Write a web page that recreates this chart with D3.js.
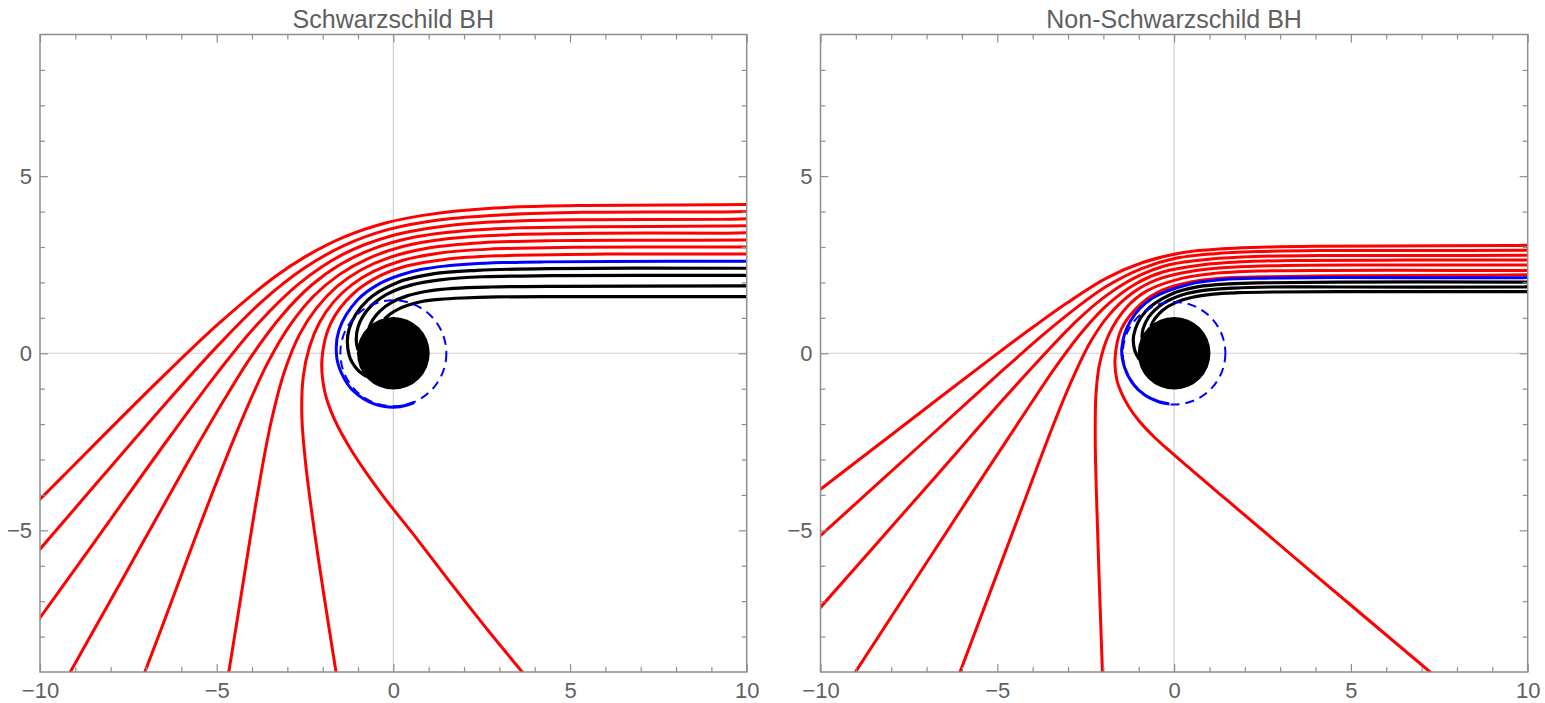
<!DOCTYPE html>
<html><head><meta charset="utf-8">
<script src="https://cdn.jsdelivr.net/npm/d3@7"></script>
<style>body{margin:0;background:#fff}</style>
</head><body>
<svg id="chart" width="1545" height="703"></svg>
<script>
// ---------- data ----------
const titles = ["Schwarzschild BH", "Non-Schwarzschild BH"];
const xMajorTicks = [-10, -5, 0, 5, 10];
const xMinorTicks = [-9, -8, -7, -6, -4, -3, -2, -1, 1, 2, 3, 4, 6, 7, 8, 9];
const yMajorTicks = [-5, 0, 5];
const yMinorTicks = [-8, -7, -6, -4, -3, -2, -1, 1, 2, 3, 4, 6, 7, 8];
const xDomain = [-10, 10];
const yDomain = [-9, 9];

// Schwarzschild panel
const leftHorizon = 1.0;
const leftPhotonSphere = 1.5;
const leftRed = [
  [[10,4.2],[9.08,4.19],[5.21,4.17],[2.87,4.10],[0.88,3.90],[-0.17,3.69],[-1.37,3.29],[-2.50,2.72],[-3.39,2.13],[-4.93,0.85],[-6.63,-0.76],[-9.37,-3.49],[-10.5,-4.62]],
  [[10,4.0],[9.17,3.99],[5.36,3.98],[3.11,3.91],[1.33,3.77],[-0.16,3.49],[-1.40,3.04],[-2.54,2.39],[-3.73,1.45],[-5.00,0.18],[-6.50,-1.48],[-9.00,-4.37],[-10.5,-6.11]],
  [[10,3.8],[9.26,3.78],[5.50,3.77],[3.33,3.73],[1.70,3.62],[-0.07,3.31],[-1.43,2.79],[-2.65,1.98],[-3.93,0.73],[-4.97,-0.54],[-6.27,-2.28],[-8.46,-5.33],[-10.5,-8.16]],
  [[10,3.6],[9.34,3.59],[5.63,3.57],[3.53,3.54],[2.01,3.46],[0.61,3.28],[-0.54,2.96],[-1.48,2.52],[-2.32,1.92],[-3.16,1.06],[-4.00,-0.06],[-4.81,-1.35],[-5.87,-3.17],[-7.68,-6.40],[-9.48,-9.6]],
  [[10,3.4],[9.41,3.39],[5.75,3.39],[3.09,3.34],[1.53,3.23],[0.29,3.02],[-0.70,2.68],[-1.53,2.22],[-2.26,1.61],[-2.92,0.80],[-3.56,-0.28],[-4.21,-1.70],[-5.21,-4.17],[-6.50,-7.60],[-7.30,-9.7]],
  [[10,3.2],[7.70,3.19],[4.56,3.18],[2.51,3.12],[0.99,2.97],[-0.12,2.70],[-0.92,2.35],[-1.60,1.88],[-2.17,1.28],[-2.65,0.54],[-3.08,-0.51],[-3.47,-1.99],[-3.85,-4.01],[-4.35,-7.10],[-4.77,-9.7]],
  [[10,3.0],[9.54,3.0],[5.06,2.99],[2.71,2.94],[1.33,2.83],[0.25,2.62],[-0.56,2.31],[-1.18,1.93],[-1.69,1.45],[-2.09,0.87],[-2.37,0.19],[-2.55,-0.66],[-2.59,-1.75],[-2.48,-3.14],[-2.17,-5.47],[-1.48,-9.89]],
  [[10,2.8],[9.60,2.8],[6.05,2.8],[2.91,2.75],[1.46,2.65],[0.40,2.47],[-0.37,2.19],[-1.15,1.67],[-1.77,0.85],[-2.02,-0.16],[-1.94,-1.09],[-1.67,-1.86],[-1.15,-2.80],[-0.32,-3.99],[0.65,-5.22],[1.61,-6.47],[2.70,-7.85],[3.84,-9.23]]
];
const leftBlue = [[10,2.6],[6.15,2.59],[4.28,2.58],[3.08,2.56],[2.18,2.52],[1.45,2.46],[0.81,2.37],[0.20,2.21],[-0.40,1.96],[-1.01,1.51],[-1.54,0.65],[-1.60,-0.13],[-1.43,-0.64],[-1.14,-1.06],[-0.55,-1.43],[0.10,-1.52],[0.59,-1.39]];
const leftBlack = [
  [[10,2.4],[9.71,2.40],[4.39,2.39],[2.37,2.34],[1.12,2.24],[0.12,2.00],[-0.73,1.50],[-1.25,0.69],[-1.25,-0.06],[-1.01,-0.47],[-0.75,-0.66]],
  [[10,2.2],[9.76,2.2],[4.49,2.19],[2.54,2.16],[1.38,2.08],[0.52,1.93],[-0.19,1.66],[-0.72,1.24],[-0.99,0.77],[-1.05,0.37],[-1.00,0.09]],
  [[10,1.9],[9.82,1.9],[4.63,1.89],[2.76,1.87],[1.70,1.83],[0.96,1.75],[0.39,1.62],[-0.06,1.43],[-0.38,1.19],[-0.58,0.95],[-0.69,0.72]],
  [[10,1.6],[9.87,1.6],[4.74,1.60],[2.93,1.59],[1.95,1.56],[1.30,1.52],[0.81,1.46],[0.43,1.36],[0.13,1.24],[-0.09,1.11],[-0.25,0.97]]
];

// Non-Schwarzschild panel
const rightHorizon = 1.0;
const rightPhotonSphere = 1.45;
const rightRed = [
  [[10,3.05],[9.53,3.04],[5.94,3.03],[3.98,3.02],[2.64,3.0],[1.51,2.96],[0.22,2.84],[-0.87,2.57],[-1.90,2.13],[-3.00,1.44],[-3.92,0.79],[-5.00,-0.01],[-6.56,-1.20],[-9.41,-3.39],[-10.5,-4.22]],
  [[10,2.91],[7.13,2.90],[4.07,2.90],[2.34,2.87],[1.15,2.81],[0.04,2.68],[-0.92,2.39],[-1.91,1.89],[-2.73,1.31],[-3.66,0.56],[-4.97,-0.59],[-7.23,-2.64],[-10.5,-5.60]],
  [[10,2.77],[7.19,2.76],[4.17,2.76],[2.30,2.73],[1.04,2.66],[-0.14,2.50],[-0.99,2.19],[-1.86,1.67],[-2.69,0.98],[-3.57,0.08],[-4.83,-1.30],[-6.82,-3.57],[-10.5,-7.74]],
  [[10,2.63],[6.64,2.63],[3.71,2.62],[2.10,2.59],[0.82,2.50],[-0.30,2.30],[-1.07,1.97],[-1.85,1.40],[-2.54,0.68],[-3.32,-0.34],[-4.22,-1.68],[-5.83,-4.12],[-9.11,-9.15]],
  [[10,2.49],[6.19,2.49],[3.14,2.48],[1.65,2.43],[0.53,2.32],[-0.50,2.07],[-1.18,1.70],[-1.85,1.07],[-2.36,0.33],[-2.86,-0.69],[-3.43,-2.06],[-4.51,-4.91],[-6.11,-9.15]],
  [[10,2.34],[8.00,2.34],[4.42,2.34],[2.40,2.32],[1.09,2.25],[0.24,2.12],[-0.77,1.76],[-1.34,1.30],[-1.84,0.54],[-2.11,-0.31],[-2.21,-1.17],[-2.23,-2.48],[-2.18,-4.50],[-2.06,-8.07],[-2.02,-9.2]],
  [[10,2.22],[8.04,2.2],[4.49,2.19],[2.54,2.16],[1.33,2.12],[0.51,2.02],[-0.32,1.79],[-0.92,1.41],[-1.49,0.69],[-1.67,-0.15],[-1.62,-0.75],[-1.50,-1.10],[-1.30,-1.48],[-1.00,-1.90],[-0.55,-2.38],[0,-2.87],[1.5,-4.15],[4.0,-6.27],[7.24,-9],[7.6,-9.3]]
];
const rightBlue = [[10,2.14],[9.77,2.13],[4.52,2.14],[2.57,2.12],[1.39,2.08],[0.43,1.95],[-0.62,1.55],[-1.23,0.92],[-1.48,0.13],[-1.40,-0.40],[-1.14,-0.89],[-0.83,-1.18],[-0.43,-1.37],[-0.13,-1.43]];
const rightBlack = [
  [[10,2.01],[9.80,2.01],[4.58,2.01],[2.67,1.99],[1.55,1.96],[0.69,1.88],[-0.10,1.66],[-0.81,1.18],[-1.14,0.52],[-1.11,0.07],[-0.98,-0.18]],
  [[10,1.88],[9.82,1.87],[4.64,1.87],[2.76,1.87],[1.69,1.84],[0.91,1.78],[0.24,1.65],[-0.33,1.39],[-0.72,1.02],[-0.88,0.68],[-0.91,0.42]],
  [[10,1.74],[9.85,1.74],[4.69,1.74],[2.85,1.73],[1.82,1.71],[1.10,1.67],[0.52,1.58],[0.04,1.43],[-0.33,1.21],[-0.55,0.97],[-0.66,0.76]]
];

// ---------- drawing ----------
const svg = d3.select("#chart");
const FONT = "'Liberation Sans', Arial, sans-serif";
const TXT = "#606060";
const FRAME = "#8e8e8e";

const panels = [
  {title: titles[0], xr: [40, 746.7], red: leftRed, blue: leftBlue, black: leftBlack, horizon: leftHorizon, ps: leftPhotonSphere},
  {title: titles[1], xr: [820.5, 1527.7], red: rightRed, blue: rightBlue, black: rightBlack, horizon: rightHorizon, ps: rightPhotonSphere}
];
const yRange = [672, 34.5];

panels.forEach((p, i) => {
  const x = d3.scaleLinear().domain(xDomain).range(p.xr);
  const y = d3.scaleLinear().domain(yDomain).range(yRange);
  const g = svg.append("g");
  const clipId = "clip" + i;
  g.append("clipPath").attr("id", clipId).append("rect")
    .attr("x", x(-10)).attr("y", y(9)).attr("width", x(10) - x(-10)).attr("height", y(-9) - y(9));

  // zero grid lines
  g.append("line").attr("x1", x(0)).attr("x2", x(0)).attr("y1", y(9)).attr("y2", y(-9))
    .attr("stroke", "#cfcfcf").attr("stroke-width", 1.2);
  g.append("line").attr("x1", x(-10)).attr("x2", x(10)).attr("y1", y(0)).attr("y2", y(0))
    .attr("stroke", "#cfcfcf").attr("stroke-width", 1.2);

  const plot = g.append("g").attr("clip-path", `url(#${clipId})`);
  const line = d3.line().x(d => x(d[0])).y(d => y(d[1])).curve(d3.curveCatmullRom.alpha(0.5));

  plot.selectAll("path.red").data(p.red).join("path").attr("class", "red")
    .attr("d", line).attr("fill", "none").attr("stroke", "#ff0000").attr("stroke-width", 3);
  plot.selectAll("path.blk").data(p.black).join("path").attr("class", "blk")
    .attr("d", line).attr("fill", "none").attr("stroke", "#000").attr("stroke-width", 3.2);
  plot.append("path").datum(p.blue).attr("d", line).attr("fill", "none")
    .attr("stroke", "#0000ff").attr("stroke-width", 3);

  // horizon disk
  plot.append("circle").attr("cx", x(0)).attr("cy", y(0)).attr("r", x(p.horizon) - x(0) + 1)
    .attr("fill", "#000");
  // photon sphere (dashed)
  plot.append("circle").attr("cx", x(0)).attr("cy", y(0)).attr("r", x(p.ps) - x(0))
    .attr("fill", "none").attr("stroke", "#0000ff").attr("stroke-width", 2)
    .attr("stroke-dasharray", "9,6");

  // axes
  const styleAxis = sel => {
    sel.select(".domain").remove();
    sel.selectAll(".tick line").attr("stroke", FRAME).attr("stroke-width", 1.2);
    sel.selectAll(".tick text").attr("fill", TXT).style("font-family", FONT).style("font-size", "22px");
  };
  g.append("g").attr("transform", `translate(0,${y(-9)})`)
    .call(d3.axisBottom(x).tickValues(xMajorTicks).tickSize(-8).tickPadding(10).tickFormat(d3.format("d"))).call(styleAxis);
  g.append("g").attr("transform", `translate(0,${y(-9)})`)
    .call(d3.axisBottom(x).tickValues(xMinorTicks).tickSize(-5).tickFormat("")).call(styleAxis);
  g.append("g").attr("transform", `translate(0,${y(9)})`)
    .call(d3.axisTop(x).tickValues(xMajorTicks).tickSize(-8).tickFormat("")).call(styleAxis);
  g.append("g").attr("transform", `translate(0,${y(9)})`)
    .call(d3.axisTop(x).tickValues(xMinorTicks).tickSize(-5).tickFormat("")).call(styleAxis);
  g.append("g").attr("transform", `translate(${x(-10)},0)`)
    .call(d3.axisLeft(y).tickValues(yMajorTicks).tickSize(-8).tickPadding(8).tickFormat(d3.format("d"))).call(styleAxis);
  g.append("g").attr("transform", `translate(${x(-10)},0)`)
    .call(d3.axisLeft(y).tickValues(yMinorTicks).tickSize(-5).tickFormat("")).call(styleAxis);
  g.append("g").attr("transform", `translate(${x(10)},0)`)
    .call(d3.axisRight(y).tickValues(yMajorTicks).tickSize(-8).tickFormat("")).call(styleAxis);
  g.append("g").attr("transform", `translate(${x(10)},0)`)
    .call(d3.axisRight(y).tickValues(yMinorTicks).tickSize(-5).tickFormat("")).call(styleAxis);

  // frame
  g.append("rect").attr("x", x(-10)).attr("y", y(9)).attr("width", x(10) - x(-10)).attr("height", y(-9) - y(9))
    .attr("fill", "none").attr("stroke", FRAME).attr("stroke-width", 1.5);

  // title
  g.append("text").attr("x", x(0)).attr("y", 28).attr("text-anchor", "middle")
    .attr("fill", TXT).style("font-family", FONT).style("font-size", "25px").text(p.title);
});
</script>
</body></html>
